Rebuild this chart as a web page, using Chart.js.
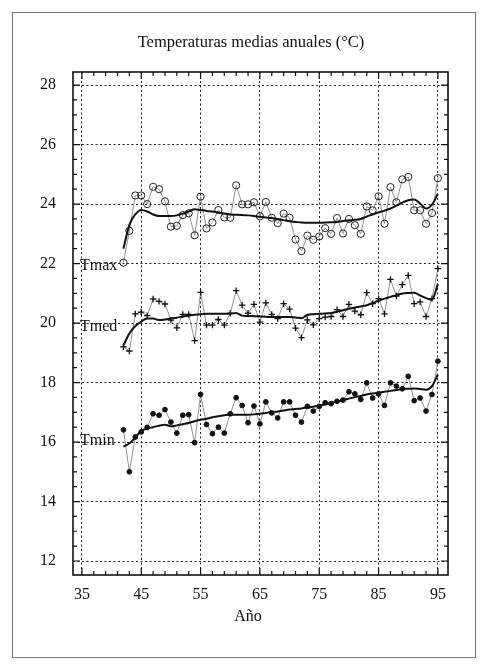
<!DOCTYPE html>
<html>
<head>
<meta charset="utf-8">
<script src="https://cdn.jsdelivr.net/npm/chart.js@4.4.1/dist/chart.umd.min.js"></script>
<style>
  html, body { margin: 0; padding: 0; background: #fff; }
  canvas { display: block; }
</style>
</head>
<body>
<canvas id="chart" width="487" height="668"></canvas>
<script>
// años 1942..1995
const years = [42,43,44,45,46,47,48,49,50,51,52,53,54,55,56,57,58,59,60,61,62,63,64,65,66,67,68,69,
  70,71,72,73,74,75,76,77,78,79,80,81,82,83,84,85,86,87,88,89,90,91,92,93,94,95];

const tmax = [22.03,23.1,24.29,24.29,24.0,24.58,24.5,24.09,23.24,23.27,23.63,23.69,22.95,24.25,23.18,23.38,
  23.8,23.55,23.54,24.63,23.99,23.99,24.06,23.59,24.07,23.54,23.36,23.68,23.54,22.81,22.42,22.94,22.8,22.91,
  23.19,23.0,23.53,23.01,23.5,23.29,23.0,23.92,23.79,24.26,23.34,24.57,24.06,24.83,24.91,23.79,23.79,23.34,23.7,24.87];
const tmaxSmooth = [22.5,23.3,23.65,23.8,23.75,23.65,23.6,23.6,23.6,23.62,23.68,23.75,23.83,23.8,23.77,23.75,
  23.72,23.68,23.65,23.64,23.63,23.62,23.6,23.57,23.55,23.53,23.5,23.46,23.42,23.4,23.38,23.37,23.37,23.37,
  23.38,23.39,23.4,23.43,23.45,23.47,23.5,23.58,23.65,23.72,23.78,23.85,23.95,24.05,24.13,24.15,24.02,23.85,23.98,24.35];

const tmed = [19.2,19.06,20.31,20.37,20.25,20.81,20.73,20.64,20.1,19.84,20.29,20.29,19.41,21.03,19.93,19.93,
  20.12,19.93,20.33,21.09,20.6,20.33,20.63,20.03,20.68,20.29,20.15,20.65,20.47,19.83,19.51,20.11,19.94,20.15,
  20.2,20.22,20.45,20.22,20.63,20.4,20.28,21.02,20.65,20.82,20.31,21.47,20.91,21.29,21.6,20.65,20.71,20.22,20.82,21.83];
const tmedSmooth = [19.25,19.65,19.9,20.05,20.15,20.15,20.1,20.12,20.15,20.18,20.22,20.25,20.28,20.3,20.31,20.31,
  20.31,20.31,20.31,20.34,20.25,20.24,20.23,20.22,20.21,20.2,20.2,20.2,20.2,20.19,20.16,20.27,20.3,20.31,
  20.32,20.34,20.38,20.43,20.48,20.52,20.56,20.6,20.67,20.75,20.82,20.88,20.94,20.99,21.01,21.02,20.93,20.84,20.78,21.32];

const tmin = [16.41,15.0,16.17,16.34,16.49,16.95,16.9,17.09,16.67,16.3,16.9,16.92,15.98,17.6,16.59,16.28,
  16.5,16.3,16.95,17.49,17.23,16.65,17.21,16.61,17.35,16.98,16.81,17.35,17.35,16.9,16.67,17.2,17.04,17.2,
  17.32,17.29,17.37,17.41,17.69,17.62,17.43,17.99,17.48,17.62,17.23,17.99,17.88,17.79,18.21,17.39,17.48,17.04,17.6,18.72];
const tminSmooth = [15.85,15.95,16.15,16.37,16.45,16.5,16.55,16.58,16.53,16.56,16.6,16.64,16.7,16.75,16.78,16.83,
  16.87,16.9,16.92,16.92,16.92,16.92,16.93,16.95,16.98,17.0,17.03,17.06,17.09,17.11,17.13,17.16,17.19,17.22,
  17.27,17.31,17.36,17.41,17.46,17.51,17.55,17.6,17.63,17.66,17.69,17.72,17.75,17.78,17.79,17.8,17.78,17.76,17.88,18.27];

const xTicks = [35,45,55,65,75,85,95];
const yTicks = [12,14,16,18,20,22,24,26,28];
const seriesLabels = [
  { text: 'Tmax', value: 21.92 },
  { text: 'Tmed', value: 19.87 },
  { text: 'Tmin', value: 16.03 }
];

const serif = 'Liberation Serif, "DejaVu Serif", serif';
const pts = vals => vals.map((v, i) => ({ x: years[i], y: v }));

const rawLine = { borderColor: '#8a8778', borderWidth: 0.9, tension: 0, order: 2 };
const smoothLine = { borderColor: '#111', borderWidth: 2, pointRadius: 0, cubicInterpolationMode: 'monotone', order: 1 };

// marcos, ticks hacia dentro, titulo y rotulos
const decor = {
  id: 'decor',
  afterDraw(chart) {
    const { ctx, chartArea: a, scales: { x, y } } = chart;
    ctx.save();
    ctx.strokeStyle = '#777';
    ctx.lineWidth = 1;
    ctx.strokeRect(12.5, 12.5, 463, 645);

    ctx.strokeStyle = '#111';
    ctx.lineWidth = 1.6;
    ctx.strokeRect(a.left, a.top, a.right - a.left, a.bottom - a.top);

    ctx.lineWidth = 1.2;
    ctx.beginPath();
    for (let v = 35; v <= 95; v += 2) {
      const px = x.getPixelForValue(v);
      if (px < a.left || px > a.right) continue;
      const len = (v - 35) % 10 === 0 ? 7 : 4;
      ctx.moveTo(px, a.bottom); ctx.lineTo(px, a.bottom - len);
      ctx.moveTo(px, a.top); ctx.lineTo(px, a.top + len);
    }
    for (let v = 12; v <= 28; v += 0.5) {
      const py = y.getPixelForValue(v);
      const len = v % 2 === 0 ? 7 : 4;
      ctx.moveTo(a.left, py); ctx.lineTo(a.left + len, py);
      ctx.moveTo(a.right, py); ctx.lineTo(a.right - len, py);
    }
    ctx.stroke();

    ctx.fillStyle = '#111';
    ctx.textAlign = 'center';
    ctx.textBaseline = 'middle';
    ctx.font = '16.5px ' + serif;
    ctx.fillText('Temperaturas medias anuales (\u00B0C)', 251, 43);
    ctx.font = '16px ' + serif;
    ctx.fillText('A\u00F1o', 248, 617);

    ctx.textAlign = 'left';
    seriesLabels.forEach(l => {
      ctx.fillText(l.text, a.left + 7, y.getPixelForValue(l.value));
    });
    ctx.restore();
  }
};

const ctx = document.getElementById('chart').getContext('2d');
new Chart(ctx, {
  type: 'line',
  data: {
    datasets: [
      { label: 'Tmax', data: pts(tmax), ...rawLine, pointStyle: 'circle', pointRadius: 3.6,
        pointBorderColor: '#222', pointBackgroundColor: 'rgba(0,0,0,0)', pointBorderWidth: 1 },
      { label: 'Tmax suavizada', data: pts(tmaxSmooth), ...smoothLine },
      { label: 'Tmed', data: pts(tmed), ...rawLine, pointStyle: 'cross', pointRadius: 3.2,
        pointBorderColor: '#111', pointBorderWidth: 1.3 },
      { label: 'Tmed suavizada', data: pts(tmedSmooth), ...smoothLine },
      { label: 'Tmin', data: pts(tmin), ...rawLine, pointStyle: 'circle', pointRadius: 2.4,
        pointBorderColor: '#111', pointBackgroundColor: '#111', pointBorderWidth: 1 },
      { label: 'Tmin suavizada', data: pts(tminSmooth), ...smoothLine }
    ]
  },
  options: {
    responsive: false,
    animation: false,
    layout: { padding: { left: 0, top: 72, right: 39, bottom: 0 } },
    plugins: { legend: { display: false }, title: { display: false }, tooltip: { enabled: false } },
    scales: {
      x: {
        type: 'linear',
        min: 33.5,
        max: 96.7,
        afterBuildTicks: s => { s.ticks = xTicks.map(v => ({ value: v })); },
        afterFit: s => { s.height = 93; },
        grid: { color: '#222', lineWidth: 1, drawTicks: false },
        border: { display: false, dash: [2, 2.5] },
        ticks: { padding: 10, color: '#111', font: { family: serif, size: 16 }, maxRotation: 0 }
      },
      y: {
        min: 11.53,
        max: 28.44,
        afterBuildTicks: s => { s.ticks = yTicks.map(v => ({ value: v })); },
        afterFit: s => { s.width = 73; },
        grid: { color: '#222', lineWidth: 1, drawTicks: false },
        border: { display: false, dash: [2, 2.5] },
        ticks: { padding: 17, color: '#111', font: { family: serif, size: 16 } }
      }
    }
  },
  plugins: [decor]
});
</script>
</body>
</html>
